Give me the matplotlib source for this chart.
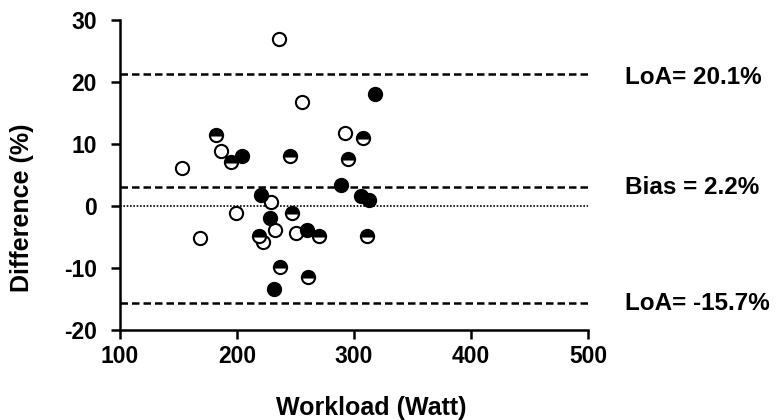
import matplotlib
matplotlib.use("Agg")
import matplotlib.pyplot as plt

plt.rcParams['font.family'] = ['Liberation Sans', 'DejaVu Sans']
plt.rcParams['font.weight'] = 'bold'

# Open circles
open_x = [235.8, 255.8, 186.1, 153.2, 292.5, 229.4, 199.2, 232.2, 168.2, 222.2, 250.7]
open_y = [26.9, 16.8, 8.8, 6.2, 11.8, 0.7, -1.2, -3.9, -5.1, -5.8, -4.3]
# Filled circles
filled_x = [204.3, 318.1, 288.7, 220.5, 228.2, 306.1, 313.2, 259.8, 231.9]
filled_y = [8.1, 18.1, 3.4, 1.7, -1.9, 1.6, 1.0, -3.8, -13.4]
# Half-filled circles (top half filled)
half_x = [181.9, 195.2, 245.6, 308.1, 294.7, 246.7, 218.7, 270.0, 311.3, 236.5, 260.6]
half_y = [11.5, 7.1, 8.0, 10.9, 7.6, -1.1, -4.8, -4.8, -4.8, -9.9, -11.4]

loa_upper = 21.3
bias_line = 3.0
loa_lower = -15.7
labels = ["LoA= 20.1%", "Bias = 2.2%", "LoA= -15.7%"]

x_ticks = [100, 200, 300, 400, 500]
y_ticks = [-20, -10, 0, 10, 20, 30]
x_ticklabels = ["100", "200", "300", "400", "500"]
y_ticklabels = ["-20", "-10", "0", "10", "20", "30"]

fig = plt.figure(figsize=(7.8, 4.2), dpi=100)
ax = fig.add_axes([120 / 780, 1 - 330 / 420, 468 / 780, 310 / 420])

ax.axhline(0, color='black', lw=1.2, ls=(0, (1, 1)), zorder=1)
for yv in [loa_upper, bias_line, loa_lower]:
    ax.axhline(yv, color='black', lw=1.8, ls=(0, (3, 1.6)), zorder=1)

ms = 9.5
mew = 1.5
ax.plot(open_x, open_y, 'o', ms=ms, mfc='white', mec='black', mew=mew, ls='none', zorder=3)
ax.plot(filled_x, filled_y, 'o', ms=ms, mfc='black', mec='black', mew=mew, ls='none', zorder=3)
ax.plot(half_x, half_y, 'o', ms=ms, mfc='black', mfcalt='white', fillstyle='top',
        mec='black', mew=mew, ls='none', zorder=3)

ax.set_xlim(100, 500)
ax.set_ylim(-20, 30)
ax.set_xticks(x_ticks)
ax.set_xticklabels(x_ticklabels)
ax.set_yticks(y_ticks)
ax.set_yticklabels(y_ticklabels)
ax.spines['top'].set_visible(False)
ax.spines['right'].set_visible(False)
for s in ['left', 'bottom']:
    ax.spines[s].set_linewidth(1.8)
ax.tick_params(width=1.8, length=6.5, labelsize=16.5)
ax.tick_params(axis='x', pad=4)
ax.tick_params(axis='y', pad=10)
for lab in ax.get_xticklabels() + ax.get_yticklabels():
    lab.set_fontweight('bold')

fig.text(371 / 780, 1 - 408 / 420, 'Workload (Watt)', fontsize=18, fontweight='bold',
         ha='center', va='center')
fig.text(22 / 780, 1 - 208 / 420, 'Difference (%)', fontsize=18, fontweight='bold',
         ha='center', va='center', rotation=90)

for yv, txt in zip([loa_upper - 0.6, bias_line, loa_lower], labels):
    ax.text(1.079, yv, txt, transform=ax.get_yaxis_transform(), fontsize=17.5,
            fontweight='bold', va='center', ha='left', clip_on=False)

fig.savefig('out.png', dpi=100, facecolor='white')
